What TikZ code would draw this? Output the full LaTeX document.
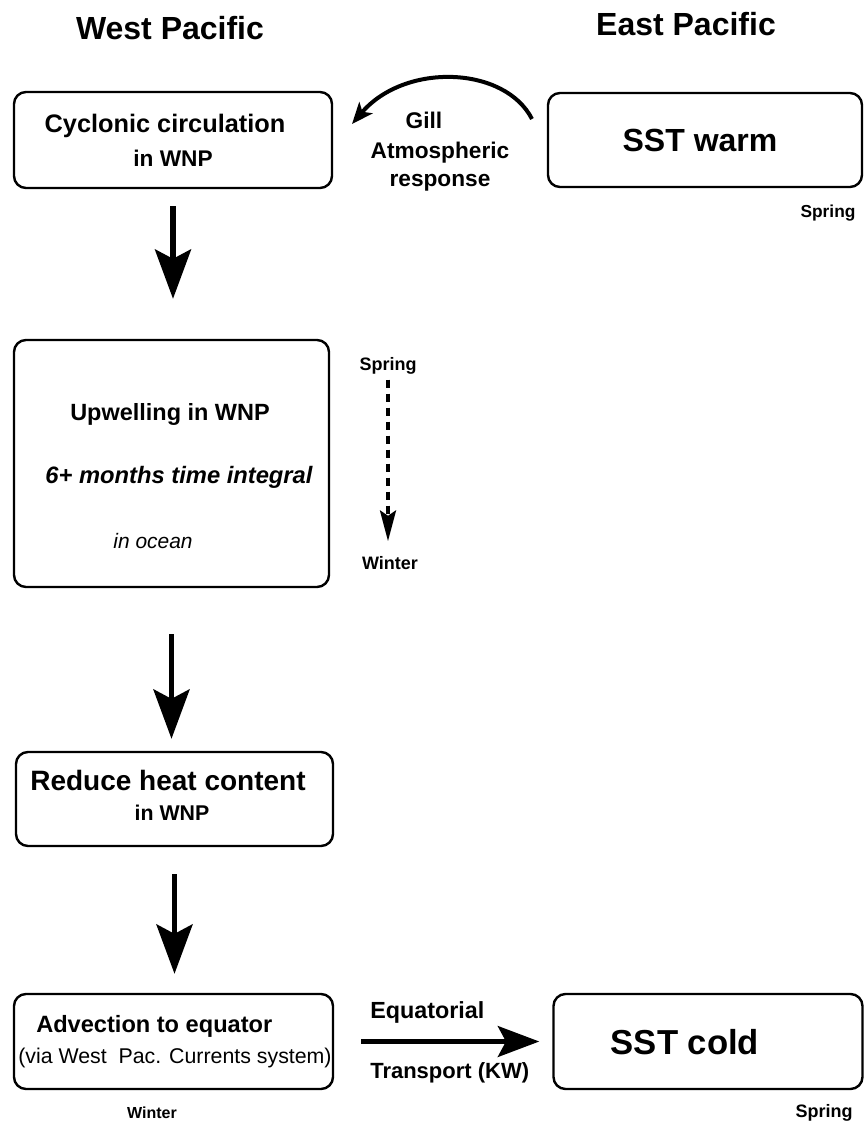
\documentclass[tikz,border=0pt]{standalone}
\usepackage{fontspec}
\setmainfont{Liberation Sans}
\usetikzlibrary{arrows.meta}
\begin{document}
\begin{tikzpicture}[x=0.75pt,y=-0.75pt,
  box/.style={draw, line width=1.8pt, rounded corners=9pt, inner sep=0pt},
  txt/.style={inner sep=0pt, font=\bfseries},
  bigarrow/.style={line width=4pt, -{Stealth[length=37pt,width=27pt,inset=7pt]}},
  harrow/.style={line width=4pt, -{Stealth[length=31pt,width=23pt,inset=6pt]}},
  dasharrow/.style={line width=2.6pt, dash pattern=on 6.5pt off 4pt, -{Stealth[length=23pt,width=12pt,inset=4pt]}},
  curvearrow/.style={line width=3pt, -{Stealth[length=16pt,width=13pt,inset=4pt]}}
]
\useasboundingbox (0,0) rectangle (864,1124);
\fill[white] (0,0) rectangle (864,1124);

% titles
\node[txt, font=\bfseries\fontsize{24}{28}\selectfont] (westt) at (170,28) {West Pacific};
\node[txt, font=\bfseries\fontsize{24}{28}\selectfont] (eastt) at (686,24) {East Pacific};

% boxes
\node[box, minimum width=318*0.75pt, minimum height=96*0.75pt] (box1) at (173,140) {};
\node[box, minimum width=314*0.75pt, minimum height=94*0.75pt] (box2) at (705,140) {};
\node[box, minimum width=315*0.75pt, minimum height=247*0.75pt] (box3) at (171.5,463.5) {};
\node[box, minimum width=317*0.75pt, minimum height=94*0.75pt] (box4) at (174.5,799) {};
\node[box, minimum width=319*0.75pt, minimum height=95*0.75pt] (box5) at (173.5,1041.5) {};
\node[box, minimum width=309*0.75pt, minimum height=95*0.75pt] (box6) at (708,1041.5) {};

% box texts
\node[txt, font=\bfseries\fontsize{19}{23}\selectfont] (t1a) at (165,126) {Cyclonic circulation};
\node[txt, font=\bfseries\fontsize{17}{21}\selectfont] (t1b) at (173,158) {in WNP};
\node[txt, font=\bfseries\fontsize{24}{28}\selectfont] (t2) at (700,140) {SST warm};
\node[txt, font=\bfseries\fontsize{17.6}{21}\selectfont] (t3a) at (170,414) {Upwelling in WNP};
\node[txt, font=\bfseries\itshape\fontsize{17.8}{21}\selectfont] (t3b) at (179,477) {6+ months time integral};
\node[txt, font=\itshape\fontsize{15.7}{19}\selectfont] (t3c) at (153,541) {in ocean};
\node[txt, font=\bfseries\fontsize{21}{25}\selectfont] (t4a) at (168,780) {Reduce heat content};
\node[txt, font=\bfseries\fontsize{16}{20}\selectfont] (t4b) at (172,813) {in WNP};
\node[txt, font=\bfseries\fontsize{17.7}{21}\selectfont, anchor=west] (t5a) at (36,1026) {Advection to equator};
\node[txt, font=\fontsize{16}{20}\selectfont, anchor=west] (t5b) at (18,1058) {(via West\ \ Pac. Currents system)};
\node[txt, font=\bfseries\fontsize{26}{30}\selectfont] (t6) at (685,1042) {SST cold};

% side labels
\node[txt, font=\bfseries\fontsize{17}{21}\selectfont] (gill1) at (424,120) {Gill};
\node[txt, font=\bfseries\fontsize{17}{21}\selectfont] (gill2) at (440,153) {Atmospheric};
\node[txt, font=\bfseries\fontsize{17}{21}\selectfont] (gill3) at (440,183) {response};
\node[txt, font=\bfseries\fontsize{13}{16}\selectfont] (spr1) at (828,213) {Spring};
\node[txt, font=\bfseries\fontsize{13.5}{16}\selectfont] (sprm) at (388,366) {Spring};
\node[txt, font=\bfseries\fontsize{13.5}{16}\selectfont] (wintm) at (390,563) {Winter};
\node[txt, font=\bfseries\fontsize{17.5}{21}\selectfont, anchor=west] (equ) at (370,1012) {Equatorial};
\node[txt, font=\bfseries\fontsize{16.5}{20}\selectfont, anchor=west] (trans) at (370,1073) {Transport (KW)};
\node[txt, font=\bfseries\fontsize{12}{15}\selectfont] (wintb) at (152,1113) {Winter};
\node[txt, font=\bfseries\fontsize{13.5}{16}\selectfont] (sprb) at (824,1113) {Spring};

% connectors
\draw[bigarrow, shorten <=17*0.75pt, shorten >=40*0.75pt] (box1.south) -- (box1.south |- box3.north);
\draw[bigarrow, shorten <=46*0.75pt, shorten >=12*0.75pt] (box3.south) -- (box3.south |- box4.north);
\draw[bigarrow, shorten <=27*0.75pt, shorten >=19*0.75pt] (box4.south) -- (box4.south |- box5.north);
\draw[harrow, shorten <=27*0.75pt, shorten >=13*0.75pt] (box5.east) -- (box5.east -| box6.west);
\draw[dasharrow, shorten <=5*0.75pt, shorten >=15*0.75pt] (sprm.south) -- (sprm.south |- wintm.north);

\coordinate (gs) at (532,119);
\coordinate (ge) at (352,124);
\draw[curvearrow] (gs) .. controls (505,66) and (405,62) .. (ge);
\end{tikzpicture}
\end{document}
